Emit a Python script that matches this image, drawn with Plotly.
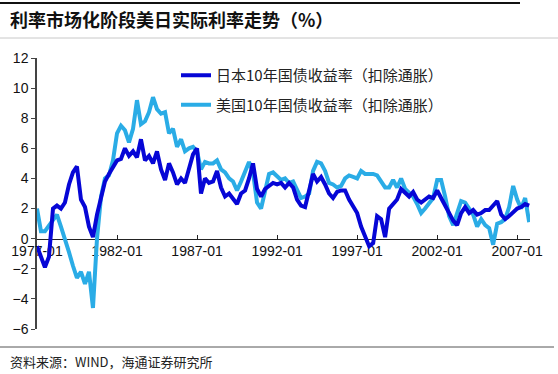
import plotly.graph_objects as go
import pandas as pd

# Quarterly observations, 1977Q1 .. 2007Q4 (real 10y yields, %)
japan = [
    -0.5, -1.3, -1.9, -1.2,   # 1977
    2.0, 2.2, 2.0, 2.4,       # 1978
    3.6, 4.4, 4.8, 2.6,       # 1979
    2.1, 0.8, 0.1, 1.6,       # 1980
    2.8, 3.8, 4.3, 4.8,       # 1981
    5.2, 5.3, 6.0, 5.5,       # 1982
    5.8, 5.4, 6.6, 5.2,       # 1983
    5.5, 5.0, 5.8, 4.6,       # 1984
    3.9, 5.0, 4.4, 3.6,       # 1985
    4.0, 3.7, 4.6, 5.6,       # 1986
    6.0, 3.0, 4.0, 3.7,       # 1987
    3.8, 4.5, 3.4, 2.8,       # 1988
    3.0, 2.6, 2.3, 3.0,       # 1989
    3.2, 4.0, 5.0, 3.3,       # 1990
    2.8, 3.3, 3.5, 3.7,       # 1991
    3.6, 3.7, 3.4, 3.7,       # 1992
    3.4, 2.6, 2.2, 2.1,       # 1993
    3.2, 4.3, 3.8, 4.1,       # 1994
    3.6, 3.0, 2.7, 3.1,       # 1995
    3.2, 3.2, 2.6, 2.2,       # 1996
    1.7, 0.8, 0.2, -0.5,      # 1997
    -0.3, 1.5, 1.3, 0.1,      # 1998
    2.0, 2.3, 2.6, 3.3,       # 1999
    3.0, 2.8, 3.1, 2.6,       # 2000
    2.4, 2.6, 2.8, 2.7,       # 2001
    3.2, 2.7, 2.2, 1.6,       # 2002
    1.2, 0.9, 1.7, 2.1,       # 2003
    1.7, 1.9, 1.6, 1.7,       # 2004
    1.9, 1.9, 2.2, 2.5,       # 2005
    1.6, 1.3, 1.5, 1.8,       # 2006
    2.0, 2.1, 2.3, 2.2,       # 2007
]

usa = [
    2.0, 0.5, 0.5, 0.9,       # 1977
    1.3, 1.6, 0.8, 0.0,       # 1978
    -0.9, -1.8, -2.6, -2.2,   # 1979
    -3.0, -2.2, -4.6, 0.0,    # 1980
    2.8, 4.0, 4.2, 5.2,       # 1981
    7.0, 7.5, 7.2, 6.4,       # 1982
    7.3, 9.2, 7.6, 7.8,       # 1983
    8.4, 9.4, 8.6, 8.3,       # 1984
    8.4, 7.0, 7.3, 6.1,       # 1985
    6.6, 5.8, 6.0, 6.1,       # 1986
    5.8, 4.6, 5.1, 5.0,       # 1987
    5.0, 5.2, 4.6, 4.4,       # 1988
    4.0, 3.8, 3.2, 3.8,       # 1989
    4.5, 5.1, 4.4, 2.4,       # 1990
    2.0, 3.3, 4.3, 4.4,       # 1991
    4.1, 3.9, 4.0, 3.7,       # 1992
    3.8, 3.2, 2.7, 2.8,       # 1993
    3.0, 4.5, 5.1, 5.0,       # 1994
    4.5, 3.7, 3.6, 3.4,       # 1995
    3.5, 4.0, 4.2, 4.1,       # 1996
    4.0, 4.5, 4.3, 4.3,       # 1997
    4.3, 4.2, 3.8, 3.4,       # 1998
    3.4, 3.9, 3.4, 4.0,       # 1999
    3.3, 3.0, 2.8, 2.3,       # 2000
    1.7, 2.0, 2.3, 2.7,       # 2001
    3.9, 3.9, 2.8, 1.5,       # 2002
    0.9, 1.8, 2.5, 2.4,       # 2003
    2.0, 1.6, 0.8, 1.3,       # 2004
    0.9, 0.7, -0.4, 1.0,      # 2005
    1.1, 1.3, 2.1, 3.5,       # 2006
    2.6, 2.0, 2.7, 1.1,       # 2007
]

dates = pd.date_range("1977-01-01", periods=len(japan), freq="QS")

title_text = "利率市场化阶段美日实际利率走势（%）"
source_text = "资料来源：WIND，海通证券研究所"
name_jp = "日本10年国债收益率（扣除通胀）"
name_us = "美国10年国债收益率（扣除通胀）"

col_jp = "#0606D6"
col_us = "#2AACE6"

W, H = 558, 374
L, R, T, B = 37, 28, 58, 45

def px_x(p):
    return (p - L) / (W - L - R)

def px_y(p):
    return (H - B - p) / (H - T - B)

fig = go.Figure()
fig.add_trace(go.Scatter(x=dates, y=usa, mode="lines", name=name_us,
                         line=dict(color=col_us, width=4), legendgroup="us", legendrank=2))
fig.add_trace(go.Scatter(x=dates, y=japan, mode="lines", name=name_jp,
                         line=dict(color=col_jp, width=4), legendgroup="jp", legendrank=1))

fig.update_layout(
    width=W, height=H,
    margin=dict(l=L, r=R, t=T, b=B),
    paper_bgcolor="white", plot_bgcolor="white",
    font=dict(family="Liberation Sans, Arial, sans-serif", color="#111"),
    showlegend=True,
    legend=dict(x=px_x(176), y=px_y(59), xanchor="left", yanchor="top",
                bgcolor="rgba(0,0,0,0)", tracegroupgap=7,
                font=dict(family="Noto Sans CJK SC, sans-serif", size=15, color="#222")),
    xaxis=dict(
        type="date",
        range=["1977-01-01", "2007-10-20"],
        tick0="1977-01-01", dtick="M60", tickformat="%Y-%m",
        ticks="inside", ticklen=4, tickcolor="#222",
        showline=True, linecolor="#222", linewidth=1,
        showgrid=False, zeroline=False,
        anchor="free", position=1/3,
        layer="below traces",
        tickfont=dict(size=14, color="#111"),
    ),
    yaxis=dict(
        range=[-6, 12], dtick=2,
        ticks="outside", ticklen=4, tickcolor="#444",
        showline=True, linecolor="#444", linewidth=1.5,
        showgrid=False, zeroline=False,
        tickfont=dict(size=14, color="#111"),
        layer="below traces",
    ),
)

shapes = [
    dict(type="line", xref="paper", yref="paper", x0=px_x(0), x1=px_x(520),
         y0=px_y(3), y1=px_y(3), line=dict(color="#111", width=2)),
    dict(type="line", xref="paper", yref="paper", x0=px_x(0), x1=px_x(558),
         y0=px_y(38), y1=px_y(38), line=dict(color="#c8c8c8", width=1)),
    dict(type="line", xref="paper", yref="paper", x0=px_x(0), x1=px_x(554),
         y0=px_y(347), y1=px_y(347), line=dict(color="#555", width=1)),
]
fig.update_layout(shapes=shapes)

fig.add_annotation(text=title_text, xref="paper", yref="paper",
                   x=px_x(8), y=px_y(19), xanchor="left", yanchor="middle",
                   showarrow=False,
                   font=dict(family="Noto Sans CJK SC, sans-serif", size=18, color="#111", weight="bold"))
fig.add_annotation(text=source_text, xref="paper", yref="paper",
                   x=px_x(8), y=px_y(361), xanchor="left", yanchor="middle",
                   showarrow=False,
                   font=dict(family="Noto Sans CJK SC, sans-serif", size=13, color="#222"))

fig.write_html("out.html", config={"displayModeBar": False},
               post_script="document.body.style.margin='0px';")
